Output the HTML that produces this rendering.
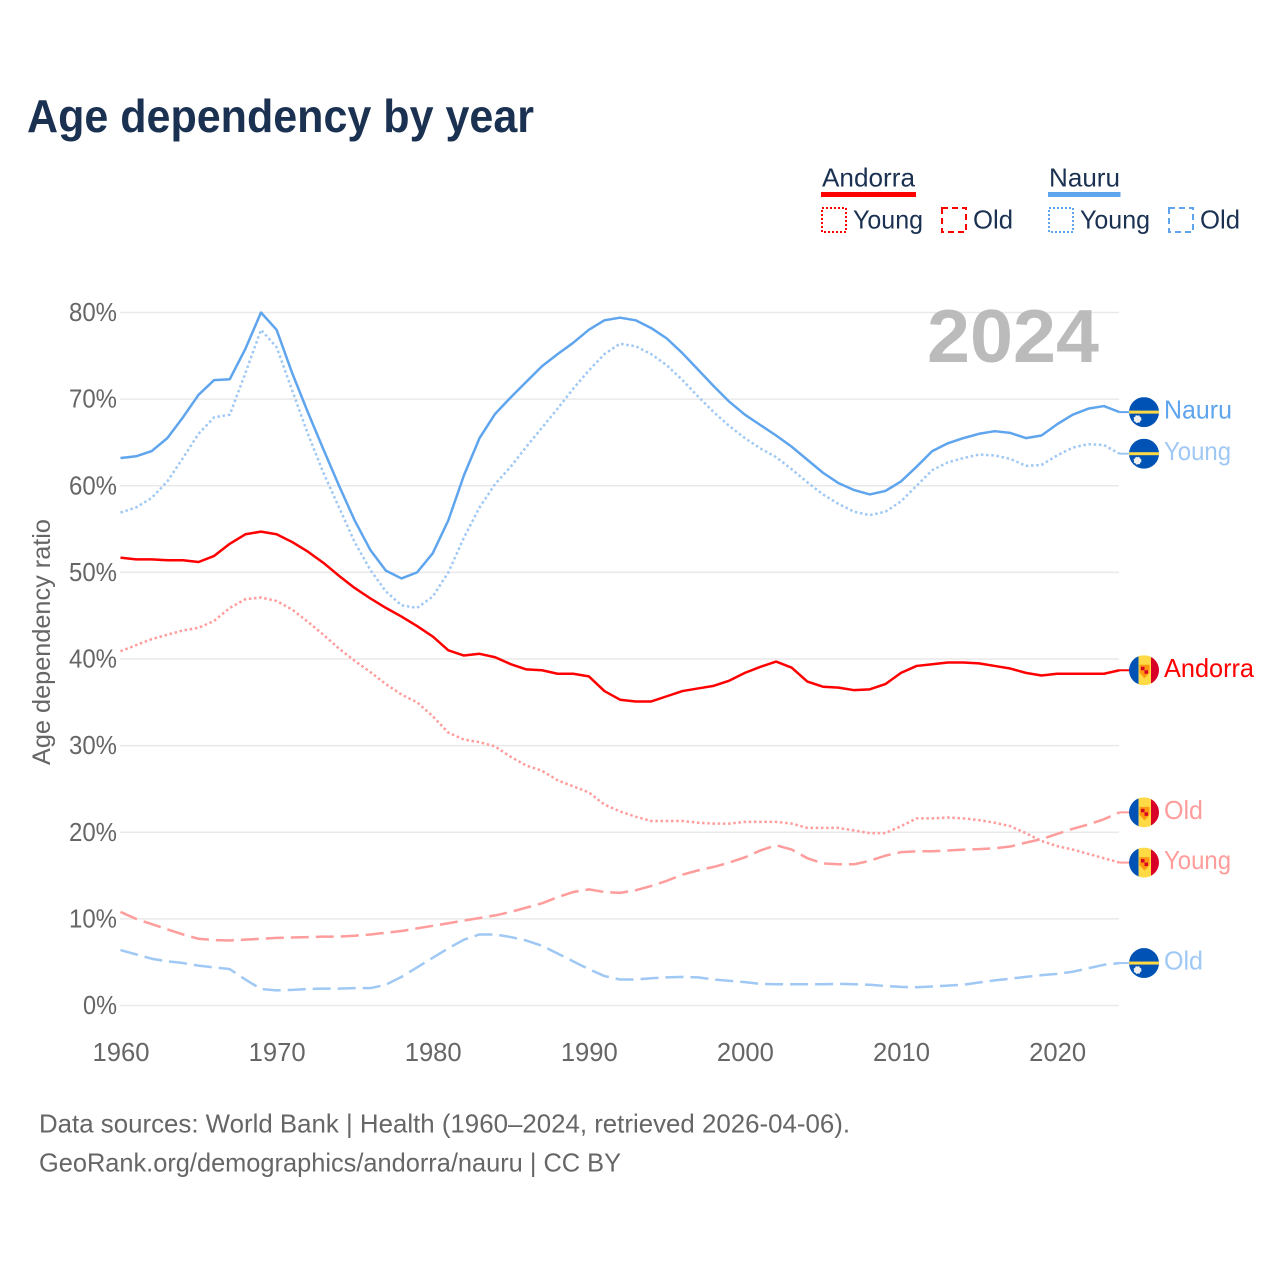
<!DOCTYPE html>
<html lang="en">
<head>
<meta charset="utf-8">
<title>Age dependency by year</title>
<style>
html,body{margin:0;padding:0;background:#fff}
svg{display:block}
text{font-family:"Liberation Sans",sans-serif}
</style>
</head>
<body>
<svg id="chart" xmlns="http://www.w3.org/2000/svg" width="1280" height="1280" viewBox="0 0 1280 1280">
  <rect x="0" y="0" width="1280" height="1280" fill="#fff"/>
  <text x="27" y="132" font-size="46" font-weight="700" fill="#1a3152" textLength="507" lengthAdjust="spacingAndGlyphs">Age dependency by year</text>

  <g fill="#1a3152" font-size="26">
    <text x="822" y="186.500" textLength="93" lengthAdjust="spacingAndGlyphs">Andorra</text>
    <rect x="821" y="192" width="95" height="5" fill="#ff0000"/>
    <rect x="822" y="208" width="24" height="24" fill="none" stroke="#ff0000" stroke-width="2" stroke-dasharray="2 2"/>
    <text x="853" y="228.500" textLength="70" lengthAdjust="spacingAndGlyphs">Young</text>
    <rect x="942" y="208" width="24" height="24" fill="none" stroke="#ff0000" stroke-width="2" stroke-dasharray="6 4"/>
    <text x="973" y="228.500" textLength="40" lengthAdjust="spacingAndGlyphs">Old</text>
    <text x="1049" y="186.500" textLength="71" lengthAdjust="spacingAndGlyphs">Nauru</text>
    <rect x="1048" y="192" width="72.500" height="5" fill="#5fa5ee"/>
    <rect x="1049" y="208" width="24" height="24" fill="none" stroke="#5fa5ee" stroke-width="2" stroke-dasharray="2 2"/>
    <text x="1080" y="228.500" textLength="70" lengthAdjust="spacingAndGlyphs">Young</text>
    <rect x="1169" y="208" width="24" height="24" fill="none" stroke="#5fa5ee" stroke-width="2" stroke-dasharray="6 4"/>
    <text x="1200" y="228.500" textLength="40" lengthAdjust="spacingAndGlyphs">Old</text>
  </g>

  <g id="grid"></g>
  <g id="yticks"></g>
  <g id="xticks"></g>
  <text transform="translate(50,642) rotate(-90)" text-anchor="middle" font-size="25" fill="#666" textLength="246" lengthAdjust="spacingAndGlyphs">Age dependency ratio</text>

  <text x="927" y="362" font-size="75" font-weight="700" fill="#bbbbbb" textLength="172" lengthAdjust="spacingAndGlyphs">2024</text>

  <g id="series"></g>
  <g id="endpoints"></g>

  <text x="39" y="1132.500" font-size="26" fill="#666" textLength="811" lengthAdjust="spacingAndGlyphs">Data sources: World Bank | Health (1960–2024, retrieved 2026-04-06).</text>
  <text x="39" y="1171.500" font-size="26" fill="#666" textLength="582" lengthAdjust="spacingAndGlyphs">GeoRank.org/demographics/andorra/nauru | CC BY</text>
</svg>
<script>
var firstYear = 1960;
var lastYear = 2024;
var xTickLabels = ["1960","1970","1980","1990","2000","2010","2020"];
var yTickValues = [0,10,20,30,40,50,60,70,80];

var nauruTotal = [63.2,63.4,64.0,65.5,67.9,70.5,72.2,72.3,75.8,80.0,78.0,73.0,68.5,64.2,60.0,56.0,52.6,50.2,49.3,50.0,52.2,56.0,61.2,65.5,68.3,70.2,72.0,73.8,75.2,76.5,78.0,79.1,79.4,79.1,78.2,77.0,75.3,73.4,71.5,69.7,68.2,67.0,65.8,64.5,63.0,61.5,60.3,59.5,59.0,59.4,60.5,62.2,64.0,64.9,65.5,66.0,66.3,66.1,65.5,65.8,67.1,68.2,68.9,69.2,68.5];
var nauruYoung = [56.9,57.5,58.6,60.5,63.2,66.0,67.9,68.2,73.0,78.0,76.0,71.0,66.0,61.5,57.5,53.5,50.3,47.8,46.2,45.9,47.2,50.0,54.0,57.5,60.2,62.2,64.5,66.7,68.9,71.2,73.3,75.2,76.4,76.1,75.2,73.9,72.2,70.3,68.5,66.9,65.5,64.3,63.3,61.9,60.4,59.0,57.9,57.0,56.6,57.0,58.2,60.0,61.8,62.7,63.2,63.6,63.5,63.1,62.3,62.4,63.5,64.4,64.8,64.7,63.7];
var nauruOld = [6.4,5.9,5.4,5.1,4.9,4.6,4.4,4.2,3.0,1.9,1.75,1.8,1.9,1.95,1.95,2.0,2.0,2.4,3.3,4.4,5.5,6.6,7.6,8.2,8.2,7.9,7.5,6.9,6.0,5.1,4.2,3.4,3.0,3.0,3.15,3.25,3.3,3.25,3.0,2.85,2.7,2.5,2.45,2.45,2.45,2.45,2.5,2.45,2.4,2.25,2.15,2.1,2.2,2.3,2.4,2.65,2.9,3.1,3.3,3.5,3.65,3.9,4.3,4.7,4.9];
var andorraTotal = [51.7,51.5,51.5,51.4,51.4,51.2,51.9,53.3,54.4,54.7,54.4,53.5,52.4,51.1,49.6,48.2,47.0,45.9,44.9,43.8,42.6,41.0,40.4,40.6,40.2,39.4,38.8,38.7,38.3,38.3,38.0,36.3,35.3,35.1,35.1,35.7,36.3,36.6,36.9,37.5,38.4,39.1,39.7,39.0,37.4,36.8,36.7,36.4,36.5,37.1,38.4,39.2,39.4,39.6,39.6,39.5,39.2,38.9,38.4,38.1,38.3,38.3,38.3,38.3,38.7];
var andorraYoung = [40.9,41.6,42.3,42.8,43.3,43.6,44.4,45.9,46.9,47.1,46.7,45.7,44.3,42.8,41.2,39.8,38.5,37.1,35.9,35.0,33.4,31.5,30.7,30.4,29.9,28.7,27.7,27.1,26.0,25.3,24.6,23.2,22.4,21.8,21.3,21.3,21.3,21.1,21.0,21.0,21.2,21.2,21.2,21.0,20.5,20.5,20.5,20.2,19.9,19.9,20.7,21.6,21.6,21.7,21.6,21.4,21.1,20.7,19.9,19.0,18.4,18.0,17.5,17.0,16.5];
var andorraOld = [10.8,10.0,9.4,8.8,8.2,7.7,7.55,7.5,7.6,7.7,7.8,7.85,7.9,7.95,7.95,8.05,8.2,8.4,8.6,8.9,9.2,9.5,9.8,10.1,10.4,10.8,11.3,11.8,12.5,13.1,13.4,13.1,13.0,13.3,13.8,14.4,15.1,15.6,16.0,16.5,17.1,17.9,18.5,18.0,17.0,16.4,16.3,16.3,16.7,17.3,17.7,17.8,17.8,17.9,18.0,18.05,18.15,18.35,18.8,19.2,19.8,20.4,20.9,21.5,22.3];

var NS = "http://www.w3.org/2000/svg";
function xScale(year){ return 120.5 + (year - 1960) * 15.61; }
function yScale(v){ return 1005.5 - v * 8.6625; }
function make(tag, attrs, parent){
  var el = document.createElementNS(NS, tag);
  for (var k in attrs) el.setAttribute(k, attrs[k]);
  parent.appendChild(el);
  return el;
}

var gridG = document.getElementById("grid");
var yG = document.getElementById("yticks");
yTickValues.forEach(function(v){
  var line = make("line", {x1:120, x2:1119, y1:yScale(v), y2:yScale(v), stroke:"#e9e9e9", "stroke-width":1.5}, gridG);
  
  
  var label = v + "%";
  var t = make("text", {x:117, y:yScale(v)+8.5, "text-anchor":"end", "font-size":25.6, fill:"#666", textLength: label.length === 3 ? 48 : 34, lengthAdjust:"spacingAndGlyphs"}, yG);
  t.textContent = label;
  
  
});

var xG = document.getElementById("xticks");
xTickLabels.forEach(function(lab){
  var t = make("text", {x:xScale(+lab)+0.5, y:1061, "text-anchor":"middle", "font-size":25.6, fill:"#666"}, xG);
  t.textContent = lab;
  
  
});

var seriesG = document.getElementById("series");
function drawLine(values, color, dash, name){
  var d = values.map(function(v, i){
    return (i ? "L" : "M") + xScale(firstYear + i).toFixed(2) + " " + yScale(v).toFixed(2);
  }).join(" ");
  var attrs = {d:d, fill:"none", stroke:color, "stroke-width":2.5, "stroke-linejoin":"round"};
  if (dash) attrs["stroke-dasharray"] = dash;
  var p = make("path", attrs, seriesG);
  
  
  return p;
}
drawLine(andorraOld, "#ff9c9c", "18 7", "line-andorra-old");
drawLine(nauruOld, "#9fc8f4", "18 7", "line-nauru-old");
drawLine(andorraYoung, "#ff9c9c", "2.5 2.7", "line-andorra-young");
drawLine(nauruYoung, "#9fc8f4", "2.5 2.7", "line-nauru-young");
drawLine(andorraTotal, "#ff0000", "", "line-andorra-total");
drawLine(nauruTotal, "#5fa5ee", "", "line-nauru-total");

var endG = document.getElementById("endpoints");
var clipCount = 0;
function drawFlag(kind, cy, group){
  var id = "flag-clip-" + (clipCount++);
  var cp = make("clipPath", {id:id}, group);
  make("circle", {cx:1144, cy:cy, r:15}, cp);
  var f = make("g", {"clip-path":"url(#" + id + ")"}, group);
  if (kind === "nauru") {
    make("rect", {x:1129, y:cy-15, width:30, height:30, fill:"#0052b4"}, f);
    make("rect", {x:1129, y:cy-1.5, width:30, height:3, fill:"#ffda44"}, f);
    make("circle", {cx:1137.5, cy:cy+7, r:3.5, fill:"#f0f0f0"}, f);
    make("circle", {cx:1137.5, cy:cy+7, r:2.5, fill:"none", stroke:"#f0f0f0", "stroke-width":3, "stroke-dasharray":"1 1"}, f);
  } else {
    make("rect", {x:1129, y:cy-15, width:9.5, height:30, fill:"#0052b4"}, f);
    make("rect", {x:1138.5, y:cy-15, width:12.5, height:30, fill:"#ffda44"}, f);
    make("rect", {x:1151, y:cy-15, width:8.5, height:30, fill:"#d80027"}, f);
    make("path", {d:"M1139.500 " + (cy-5.5) + " h10 v8 l-5 5.500 l-5 -5.500 z", fill:"#ff9811"}, f);
    make("rect", {x:1141, y:cy-3.5, width:3.5, height:3.5, fill:"#d80027"}, f);
    make("rect", {x:1144.5, y:cy, width:3.5, height:3.5, fill:"#d80027"}, f);
  }
}
function drawEnd(values, lineColor, textColor, kind, label, width, name, dash){
  var last = values[values.length - 1];
  var cy = yScale(last);
  var link = make("line", {x1:xScale(lastYear), x2:1130, y1:cy, y2:cy, stroke:lineColor, "stroke-width":2}, endG);
  
  
  var flag = make("g", {}, endG);
  
  
  drawFlag(kind, cy, flag);
  var t = make("text", {x:1164, y:cy+6.5, "font-size":26, fill:textColor, textLength:width, lengthAdjust:"spacingAndGlyphs"}, endG);
  t.textContent = label;
  
  
}
drawEnd(nauruTotal, "#5fa5ee", "#5fa5ee", "nauru", "Nauru", 68, "end-nauru-total");
drawEnd(nauruYoung, "#9fc8f4", "#9fc8f4", "nauru", "Young", 67, "end-nauru-young");
drawEnd(andorraTotal, "#ff0000", "#ff0000", "andorra", "Andorra", 90, "end-andorra-total");
drawEnd(andorraOld, "#ff9c9c", "#ff9c9c", "andorra", "Old", 39, "end-andorra-old");
drawEnd(andorraYoung, "#ff9c9c", "#ff9c9c", "andorra", "Young", 67, "end-andorra-young");
drawEnd(nauruOld, "#9fc8f4", "#9fc8f4", "nauru", "Old", 39, "end-nauru-old");
</script>
</body>
</html>
